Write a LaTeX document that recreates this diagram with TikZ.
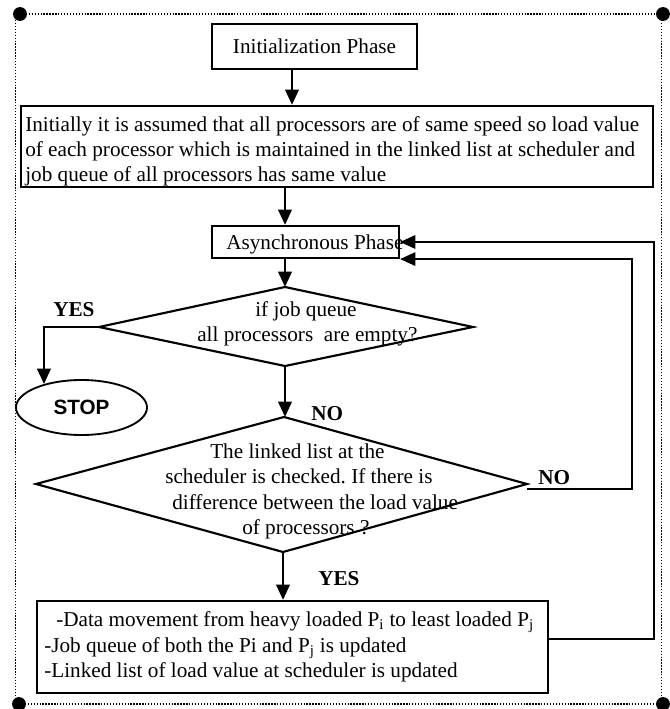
\documentclass[tikz,border=0pt]{standalone}
\usepackage{fontspec}
\setmainfont{Liberation Serif}
\newfontfamily\stopfont{Liberation Sans}
\usetikzlibrary{arrows.meta,shapes.geometric}
\def\pxu{0.75pt}
\frenchspacing
\begin{document}
\begin{tikzpicture}[x=0.75pt,y=-0.75pt,
  every node/.style={font=\fontsize{15.9}{19}\selectfont, inner sep=0pt},
  box/.style={draw, line width=1.6pt},
  ln/.style={line width=1.6pt, line join=miter},
  arr/.style={line width=2.1pt, -{Triangle[length=11.5pt,width=10pt]}},
  farr/.style={line width=1.6pt, -{Triangle[length=11.5pt,width=10pt]}},
  lbl/.style={font=\fontsize{15.9}{19}\selectfont\bfseries, anchor=base west},
  txt/.style={anchor=base west},
  framedot/.style={line width=1.3pt, dash pattern=on 1pt off 1.2pt},
]
\useasboundingbox (0,0) rectangle (669,709);

% frame
\coordinate (c1) at (20,14);
\coordinate (c2) at (663,14);
\coordinate (c3) at (19,704);
\coordinate (c4) at (663,704);
\draw[framedot] (c1) -- (c2);
\draw[framedot] (c3) -- (c4);
\draw[framedot] (15.5,20) -- (15.5,704);
\draw[framedot] (661.5,20) -- (661.5,704);
\foreach \c in {c1,c2,c3,c4} \fill (\c) circle (5.2pt);

% boxes
\node[box, minimum width=205*\pxu, minimum height=45*\pxu] (init) at (314.5,46.5) {Initialization Phase};

\node[box, minimum width=632*\pxu, minimum height=81*\pxu] (big) at (337,146.5) {};
\node[txt] (bt1) at (25,132) {Initially it is assumed that all processors are of same speed so load value};
\node[txt] (bt2) at (25,157) {of each processor which is maintained in the linked list at scheduler and};
\node[txt] (bt3) at (25,182) {job queue of all processors has same value};

\node[box, minimum width=187*\pxu, minimum height=32*\pxu] (async) at (305.5,242) {};
\node[txt] (asyt) at (226,249) {Asynchronous Phase};

% diamond 1
\coordinate (d1n) at (285,287);
\coordinate (d1s) at (285,366);
\coordinate (d1w) at (99,327);
\coordinate (d1e) at (473,327);
\draw[ln] (d1n) -- (d1e) -- (d1s) -- (d1w) -- cycle;
\node[txt] (d1t1) at (255,316) {if job queue};
\node[txt] (d1t2) at (197,341) {all processors~ are empty?};

% stop
\node[draw, ellipse, line width=1.4pt, minimum width=131*\pxu, minimum height=55*\pxu,
      font=\stopfont\bfseries\fontsize{15.5}{19}\selectfont] (stop) at (81.5,407.5) {STOP};
\node[lbl] (yes1) at (53,316) {YES};

% diamond 2
\coordinate (d2n) at (284,417);
\coordinate (d2e) at (527,484);
\coordinate (d2s) at (283,552);
\coordinate (d2w) at (36,484);
\draw[ln] (d2n) -- (d2e) -- (d2s) -- (d2w) -- cycle;
\node[txt] (d2t1) at (210,458) {The linked list at the};
\node[txt] (d2t2) at (165,483) {scheduler is checked. If there is};
\node[txt] (d2t3) at (172,509) {difference between the load value};
\node[txt] (d2t4) at (242,534) {of processors ?};
\node[lbl] (no1) at (311,420) {NO};
\node[lbl] (no2) at (538,484) {NO};
\node[lbl] (yes2) at (318,585) {YES};

% data box
\node[box, minimum width=511*\pxu, minimum height=92*\pxu] (data) at (292.5,647) {};
\node[txt] (dt1) at (56,626) {-Data movement from heavy loaded P\textsubscript{i} to least loaded P\textsubscript{j}};
\node[txt] (dt2) at (44,652) {-Job queue of both the Pi and P\textsubscript{j} is updated};
\node[txt] (dt3) at (44,677) {-Linked list of load value at scheduler is updated};

% connectors
\coordinate (a1) at (292,0);
\coordinate (a2) at (285,0);
\draw[arr] (init.south -| a1) -- (big.north -| a1);
\draw[arr] (big.south -| a2) -- (async.north -| a2);
\draw[arr] (async.south -| d1n) -- (d1n);
\draw[arr] (d1w) -| (stop.148);
\draw[arr] (d1s) -- (d1s |- d2n);
\draw[arr] (d2s) -- (d2s |- data.north);

\coordinate (r2) at (632,489);
\draw[farr] (d2e |- r2) -- (r2) |- (async.south east);
\coordinate (r1) at (654,639);
\draw[farr] (data.east |- r1) -- (r1) |- (async.east);
\end{tikzpicture}
\end{document}
